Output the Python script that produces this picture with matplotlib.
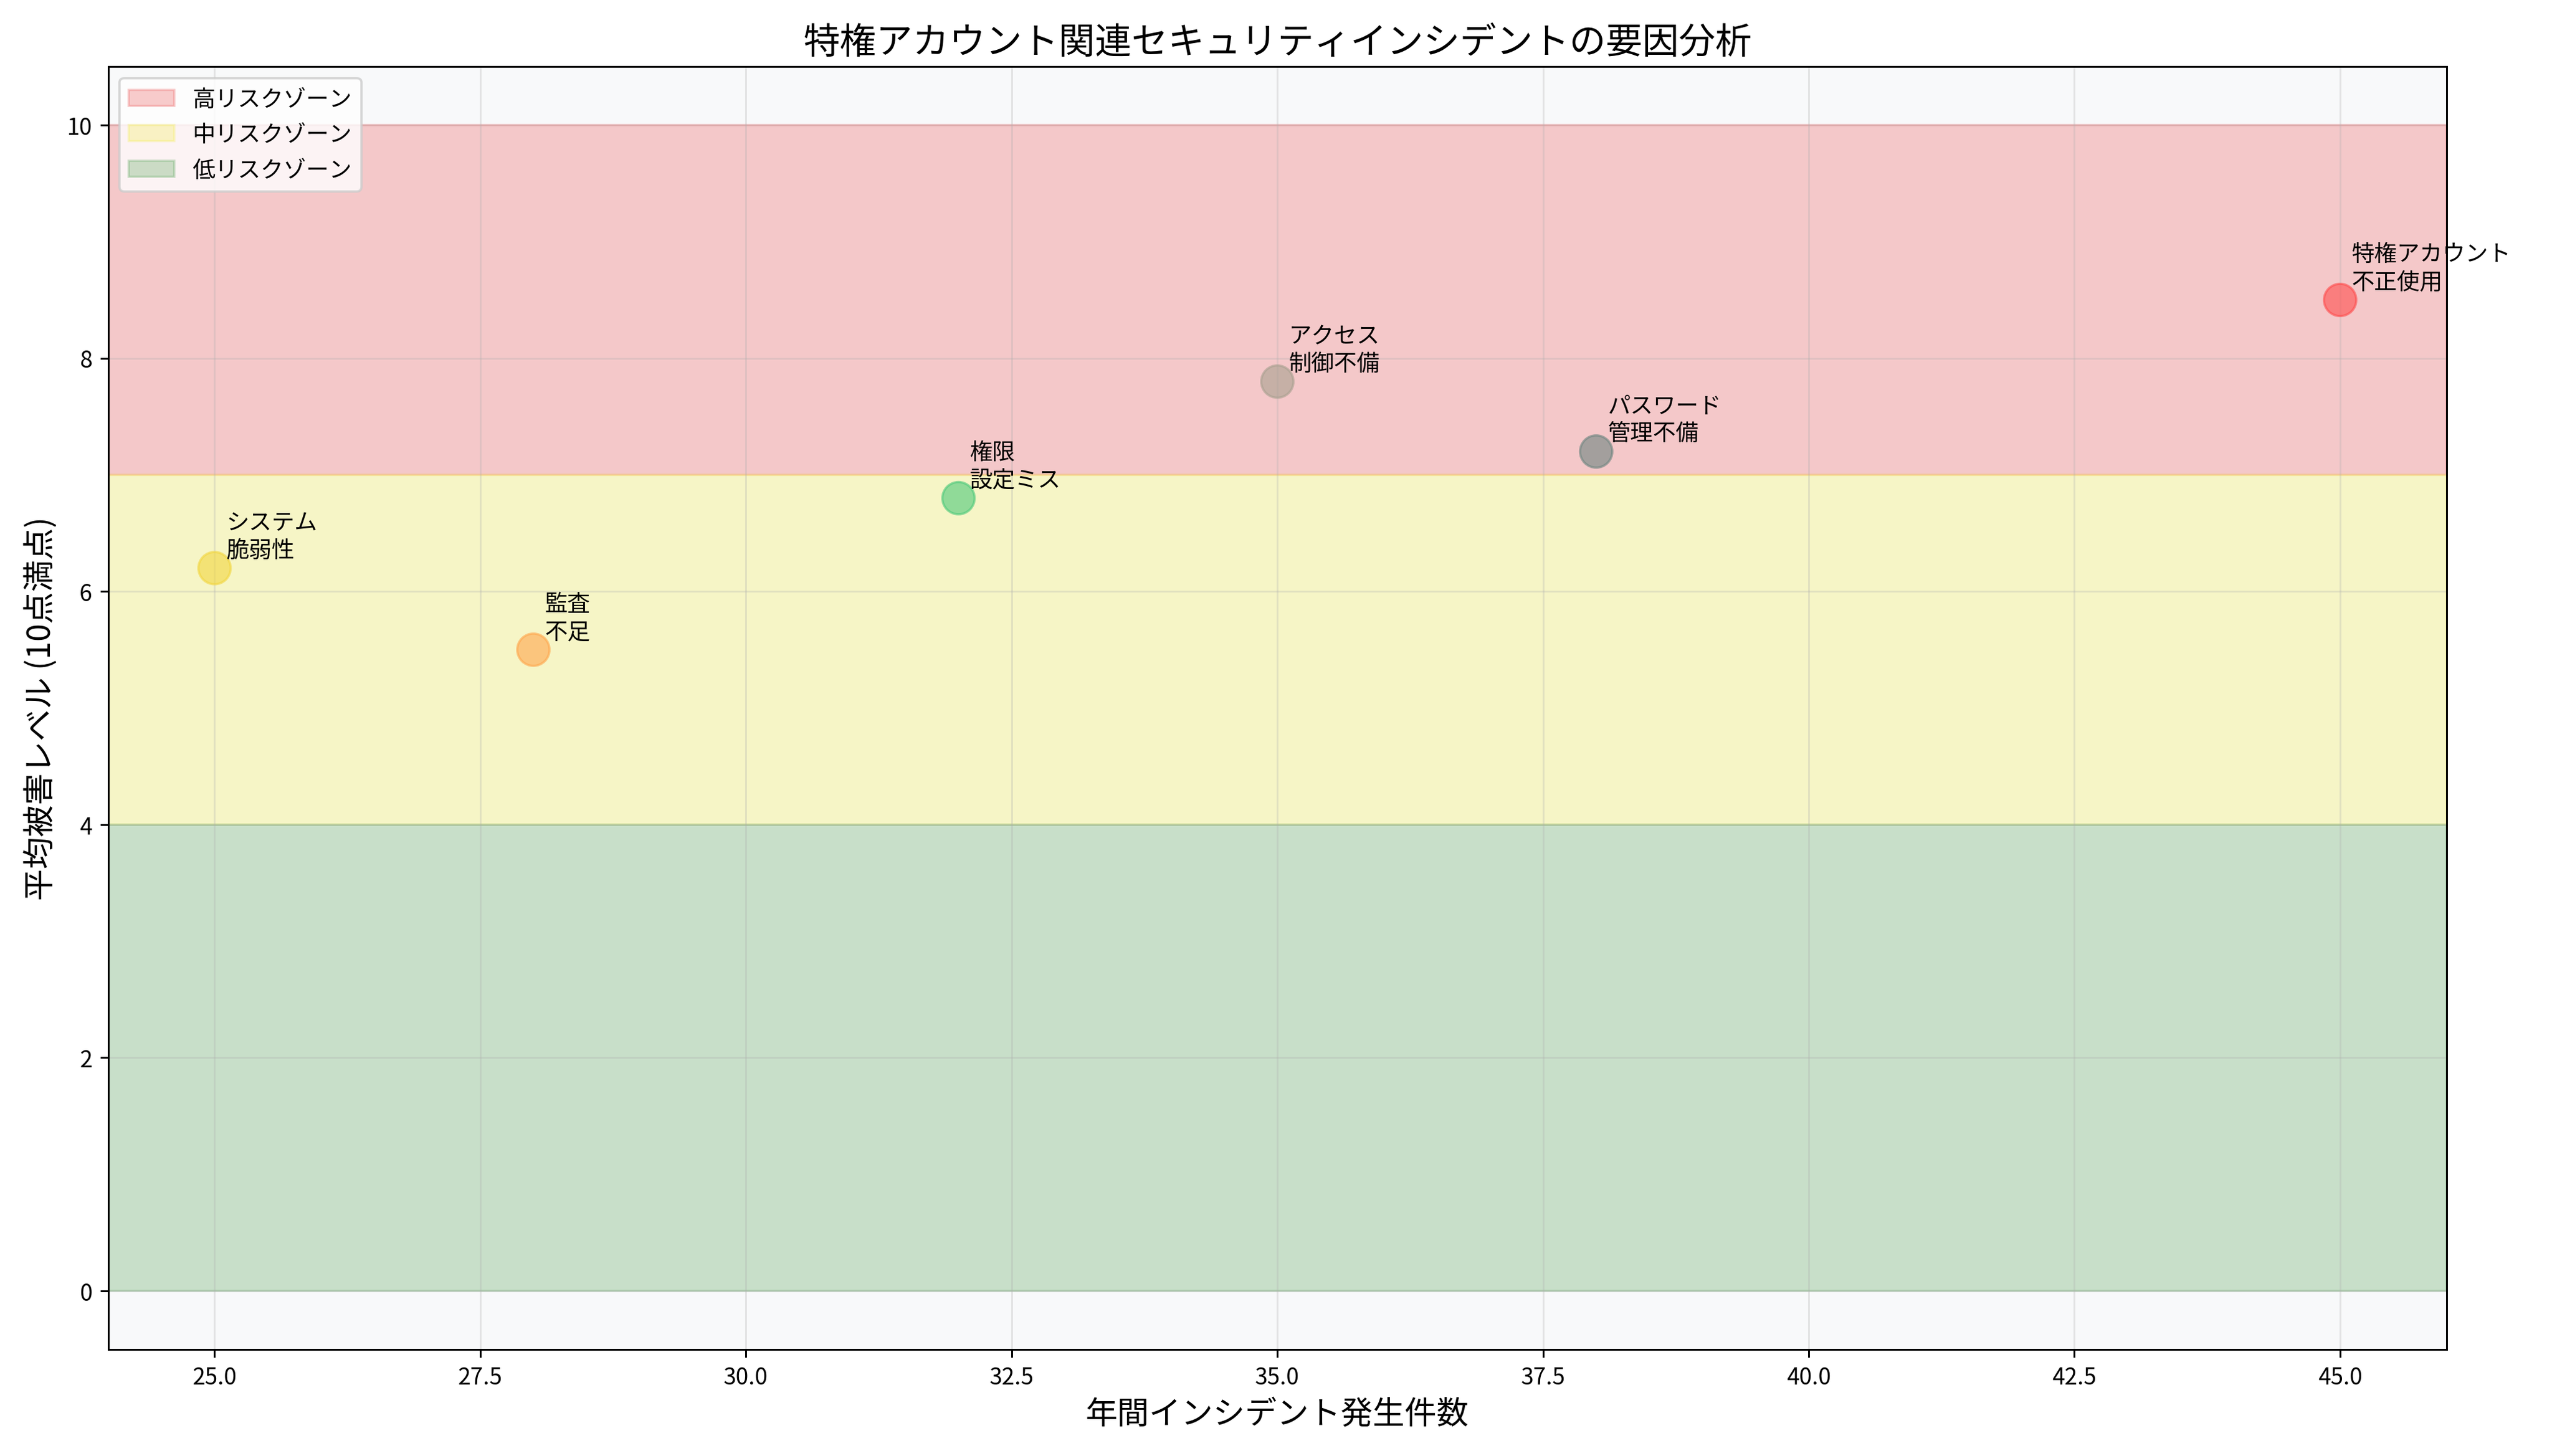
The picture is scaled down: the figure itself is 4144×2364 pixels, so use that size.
import matplotlib
matplotlib.use("Agg")
import matplotlib.pyplot as plt

plt.rcParams['font.family'] = ['Noto Sans CJK JP', 'DejaVu Sans']

labels = ['特権アカウント\n不正使用', 'アクセス\n制御不備', 'パスワード\n管理不備', '権限\n設定ミス', 'システム\n脆弱性', '監査\n不足']
incidents = [45, 35, 38, 32, 25, 28]
damage = [8.5, 7.8, 7.2, 6.8, 6.2, 5.5]
colors = ['#FF4D4D', '#A8A090', '#6E8580', '#4CC97A', '#F2D640', '#FFA64D']

fig, ax = plt.subplots(figsize=(15.54, 8.868), dpi=266.67)
ax.set_facecolor('#f8f9fa')
ax.axhspan(7, 10, color='#f08080', alpha=0.4, label='高リスクゾーン')
ax.axhspan(4, 7, color='#f5f07a', alpha=0.4, label='中リスクゾーン')
ax.axhspan(0, 4, color='#70b070', alpha=0.35, label='低リスクゾーン')
ax.scatter(incidents, damage, s=200, c=colors, alpha=0.6, zorder=3)
for x, y, t in zip(incidents, damage, labels):
    ax.annotate(t, (x, y), xytext=(5, 5), textcoords='offset points', fontsize=10)
ax.set_xlim(24, 46)
ax.set_ylim(-0.5, 10.5)
ax.grid(True, alpha=0.3)
ax.set_xlabel('年間インシデント発生件数', fontsize=14)
ax.set_ylabel('平均被害レベル (10点満点)', fontsize=14)
ax.set_title('特権アカウント関連セキュリティインシデントの要因分析', fontsize=16)
ax.legend(loc='upper left')
plt.tight_layout()
plt.savefig('out.png')
